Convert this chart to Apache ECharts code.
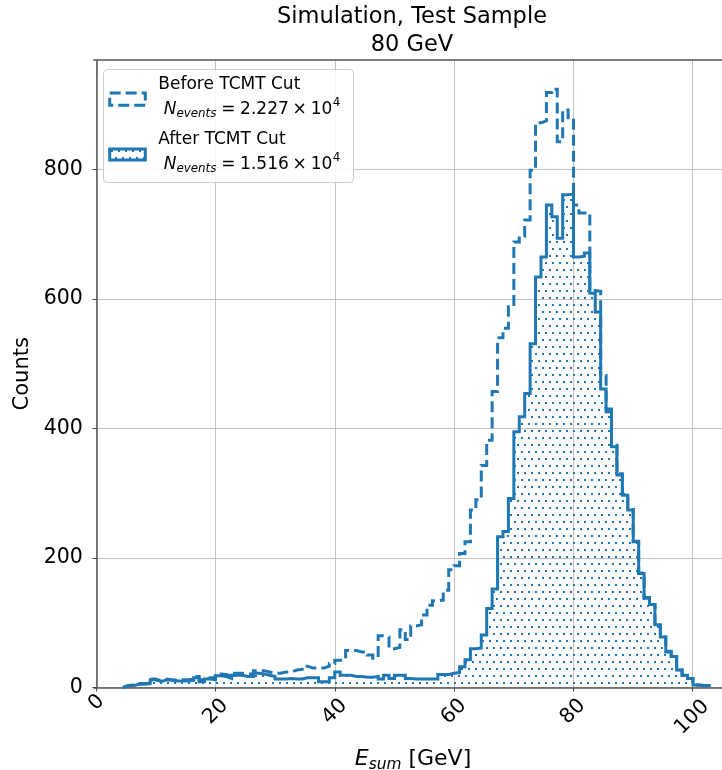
<!DOCTYPE html>
<html>
<head>
<meta charset="utf-8">
<script src="https://cdn.jsdelivr.net/npm/echarts@6/dist/echarts.min.js"></script>
<style>
  html, body { margin: 0; padding: 0; background: #ffffff; overflow: hidden; }
  #chart { width: 744px; height: 770px; }
</style>
</head>
<body>
<div id="chart"></div>
<script>
// Histogram binning of E_sum (GeV): first lower edge and common bin width
const binStart = 4.47;
const binWidth = 0.911;

// Counts per bin, before the TCMT cut
const countsBefore = [
  3, 4, 6, 6, 7, 13, 10, 13, 12, 11,
  12, 12, 13, 17, 12, 15, 15, 21, 20, 18,
  22, 22, 21, 21, 26, 26, 24, 22, 22, 24,
  24, 27, 28, 33, 30, 30, 30, 33, 37, 42,
  43, 57, 57, 55, 55, 50, 45, 80, 78, 60,
  62, 89, 74, 95, 97, 112, 127, 134, 135, 150,
  182, 188, 207, 225, 274, 290, 343, 382, 457, 540,
  555, 588, 688, 697, 722, 799, 872, 875, 919, 924,
  843, 892, 876, 745, 733, 733, 613, 612, 482, 430,
  374, 330, 298, 275, 226, 177, 139, 128, 98, 78,
  56, 48, 27, 19, 14, 4, 3, 3
];

// Counts per bin, after the TCMT cut
const countsAfter = [
  3, 3, 5, 5, 6, 12, 9, 12, 11, 10,
  10, 10, 11, 15, 9, 13, 12, 18, 17, 14,
  19, 19, 17, 17, 22, 21, 19, 17, 13, 13,
  14, 13, 13, 15, 15, 15, 9, 9, 15, 24,
  19, 19, 17, 17, 16, 16, 17, 13, 19, 14,
  19, 19, 14, 13, 13, 13, 13, 13, 20, 20,
  22, 23, 32, 43, 60, 61, 81, 122, 152, 233,
  241, 292, 395, 418, 454, 531, 634, 665, 745, 727,
  694, 761, 762, 665, 666, 671, 609, 580, 461, 426,
  372, 328, 297, 274, 225, 176, 138, 128, 97, 78,
  55, 48, 27, 19, 14, 4, 3, 3
];

const xTicks = [0, 20, 40, 60, 80, 100];
const yTicks = [0, 200, 400, 600, 800];
const seriesNames = ['Before TCMT Cut', 'After TCMT Cut'];
const eventTotals = ['2.227', '1.516'];
const titleLines = ['Simulation, Test Sample', '80 GeV'];

const BLUE = '#1f77b4';
const FONT = '"DejaVu Sans"';
const LINE_W = 3;
const DASH = [11, 5];

// Outline of a step histogram: closed down to zero at both ends
function stepVertices(counts) {
  const pts = [[binStart, 0]];
  counts.forEach((c, i) => {
    pts.push([binStart + i * binWidth, c]);
    pts.push([binStart + (i + 1) * binWidth, c]);
  });
  pts.push([binStart + counts.length * binWidth, 0]);
  return pts;
}

// Dotted hatch tile (staggered rows)
function dotTile() {
  const c = document.createElement('canvas');
  c.width = 14; c.height = 14;
  const g = c.getContext('2d');
  g.fillStyle = BLUE;
  g.fillRect(3, 3, 2, 2);
  g.fillRect(10, 3, 2, 2);
  g.fillRect(6, 10, 2, 2);
  g.fillRect(13, 10, 2, 2);
  g.fillRect(-1, 10, 2, 2);
  return c;
}
const hatch = { image: dotTile(), repeat: 'repeat' };

// Text runs laid out left to right on a shared baseline
const measureCtx = document.createElement('canvas').getContext('2d');
function fontOf(size, italic) {
  return (italic ? 'italic ' : '') + size + 'px ' + FONT;
}
function widthOf(text, size, italic) {
  measureCtx.font = fontOf(size, italic);
  return measureCtx.measureText(text).width;
}
function runWidth(items) {
  return items.reduce((w, it) => w + (it.gap || 0) + widthOf(it.text, it.size, it.italic), 0);
}
function textRuns(items, x, baseline) {
  const els = [];
  let cx = x;
  items.forEach(it => {
    cx += it.gap || 0;
    const b = baseline + (it.dy || 0);
    els.push({
      type: 'text', x: cx, y: b - 0.297 * it.size, silent: true,
      style: {
        text: it.text, font: fontOf(it.size, it.italic), fill: '#000',
        textAlign: 'left', textVerticalAlign: 'middle', align: 'left', verticalAlign: 'middle'
      }
    });
    cx += widthOf(it.text, it.size, it.italic);
  });
  return els;
}
function nEventsRuns(total) {
  const s = 17, sm = 11.9;
  return [
    { text: 'N', size: s, italic: true, gap: 5.4 },
    { text: 'events', size: sm, italic: true, dy: 3 },
    { text: '=', size: s, gap: 4.7 },
    { text: total, size: s, gap: 4.7 },
    { text: '\u00d7', size: s, gap: 3.8 },
    { text: '10', size: s, gap: 3.8 },
    { text: '4', size: sm, dy: -8.5, gap: 0.5 }
  ];
}

const plotCenterX = 413;
const xLabelRuns = [
  { text: 'E', size: 22, italic: true },
  { text: 'sum', size: 15.4, italic: true, dy: 4 },
  { text: '[GeV]', size: 22, gap: 7 }
];

const graphics = [];
// title
graphics.push({
  type: 'text', x: 412, y: 17, silent: true,
  style: { text: titleLines[0], font: '22.5px ' + FONT, fill: '#000', textAlign: 'center', textVerticalAlign: 'middle', align: 'center', verticalAlign: 'middle' }
});
graphics.push({
  type: 'text', x: 412, y: 45, silent: true,
  style: { text: titleLines[1], font: '22.5px ' + FONT, fill: '#000', textAlign: 'center', textVerticalAlign: 'middle', align: 'center', verticalAlign: 'middle' }
});
// x axis title
graphics.push(...textRuns(xLabelRuns, plotCenterX - runWidth(xLabelRuns) / 2, 766));

// legend frame and handles
graphics.push({
  type: 'rect', silent: true,
  shape: { x: 103.5, y: 69.5, width: 250, height: 113, r: 4 },
  style: { fill: 'rgba(255,255,255,0.85)', stroke: '#cccccc', lineWidth: 1 },
  z: 10
});
graphics.push({
  type: 'rect', silent: true,
  shape: { x: 109.7, y: 93, width: 35.6, height: 12.3 },
  style: { fill: 'none', stroke: BLUE, lineWidth: LINE_W, lineDash: DASH },
  z: 11
});
graphics.push({
  type: 'rect', silent: true,
  shape: { x: 109.7, y: 149, width: 35.6, height: 11 },
  style: { fill: hatch, stroke: BLUE, lineWidth: LINE_W },
  z: 11
});
[
  { name: seriesNames[0], total: eventTotals[0], base: 90 },
  { name: seriesNames[1], total: eventTotals[1], base: 145 }
].forEach(entry => {
  textRuns([{ text: entry.name, size: 17 }], 158.3, entry.base).forEach(e => { e.z = 12; graphics.push(e); });
  textRuns(nEventsRuns(entry.total), 158.3, entry.base + 24.5).forEach(e => { e.z = 12; graphics.push(e); });
});

const chart = echarts.init(document.getElementById('chart'), null, { renderer: 'canvas', width: 744, height: 770 });

const option = {
  animation: false,
  backgroundColor: '#ffffff',
  grid: { left: 93.8, top: 60, width: 636.5, height: 627.5, containLabel: false },
  xAxis: [
    {
      type: 'value', min: -0.45, max: 106.4, minInterval: 20, maxInterval: 20,
      axisLine: { show: true, onZero: false, lineStyle: { color: '#555', width: 1.5 } },
      axisTick: { show: true, length: 4, customValues: xTicks, lineStyle: { color: '#444', width: 1 } },
      splitLine: { show: true, lineStyle: { color: '#c2c2c2', width: 1 } },
      axisLabel: {
        customValues: xTicks,
        rotate: 45, margin: 15, align: 'center', verticalAlign: 'middle',
        color: '#000', fontFamily: FONT, fontSize: 20.5,
        formatter: v => '{d' + String(v).length + '|' + v + '}',
        rich: {
          d1: { fontFamily: FONT, fontSize: 20.5, color: '#000', padding: [0, 0, 0, 0] },
          d2: { fontFamily: FONT, fontSize: 20.5, color: '#000', padding: [13, 13, 0, 0] },
          d3: { fontFamily: FONT, fontSize: 20.5, color: '#000', padding: [21, 21, 0, 0] }
        }
      }
    },
    {
      type: 'value', position: 'top', min: -0.45, max: 106.4,
      axisLine: { show: true, onZero: false, lineStyle: { color: '#555', width: 1.5 } },
      axisTick: { show: false }, axisLabel: { show: false }, splitLine: { show: false }
    }
  ],
  yAxis: {
    type: 'value', min: 0, max: 969.1, interval: 200,
    name: 'Counts', nameLocation: 'middle', nameGap: 56,
    nameTextStyle: { fontFamily: FONT, fontSize: 21, color: '#000' },
    axisLine: { show: true, lineStyle: { color: '#555', width: 1.5 } },
    axisTick: { show: true, length: 4, customValues: yTicks, lineStyle: { color: '#444', width: 1 } },
    splitLine: { show: true, lineStyle: { color: '#c2c2c2', width: 1 } },
    axisLabel: {
      customValues: yTicks,
      margin: 11, color: '#000', fontFamily: FONT, fontSize: 20.5
    }
  },
  series: [
    {
      name: seriesNames[0], type: 'line', xAxisIndex: 0,
      data: stepVertices(countsBefore),
      symbol: 'none', showSymbol: false, silent: true, clip: true, z: 2,
      lineStyle: { color: BLUE, width: LINE_W, type: DASH, cap: 'butt', join: 'miter' }
    },
    {
      name: seriesNames[1], type: 'line', xAxisIndex: 0,
      data: stepVertices(countsAfter),
      symbol: 'none', showSymbol: false, silent: true, clip: true, z: 3,
      lineStyle: { color: BLUE, width: LINE_W, type: 'solid', join: 'miter' },
      areaStyle: { color: hatch, opacity: 1, origin: 'start' }
    }
  ],
  graphic: graphics
};

chart.setOption(option);
</script>
</body>
</html>
